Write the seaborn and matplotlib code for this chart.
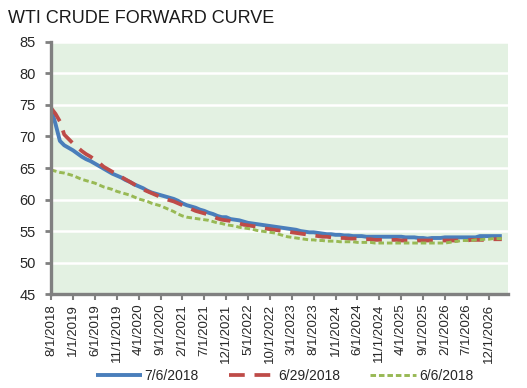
import matplotlib
matplotlib.use("Agg")
import matplotlib.pyplot as plt
import numpy as np
import pandas as pd
import seaborn as sns

# monthly forward prices, 8/2018 onwards
curve_jul06 = [
    74.3, 72.0, 69.3, 68.6, 68.2, 67.8, 67.3, 66.8, 66.4, 66.1, 65.7, 65.3,
    64.9, 64.5, 64.1, 63.8, 63.5, 63.1, 62.8, 62.4, 62.1, 61.8, 61.4, 61.1,
    60.9, 60.7, 60.5, 60.3, 60.1, 59.8, 59.4, 59.1, 58.9, 58.7, 58.4, 58.2,
    57.9, 57.7, 57.4, 57.2, 57.2, 56.9, 56.8, 56.7, 56.5, 56.3, 56.2, 56.1,
    56.0, 55.9, 55.8, 55.7, 55.6, 55.5, 55.4, 55.3, 55.2, 55.0, 54.9, 54.8,
    54.8, 54.7, 54.6, 54.5, 54.5, 54.4, 54.4, 54.3, 54.3, 54.2, 54.2, 54.2,
    54.1, 54.1, 54.1, 54.1, 54.1, 54.1, 54.1, 54.1, 54.1, 54.0, 54.0, 54.0,
    53.9, 53.9, 53.8, 53.9, 53.9, 53.9, 54.0, 54.0, 54.0, 54.0, 54.0, 54.0,
    54.0, 54.0, 54.2, 54.2, 54.2, 54.2, 54.2, 54.2,
]
curve_jun29 = [
    74.5, 73.6, 72.4, 70.3, 69.6, 68.9, 68.3, 67.7, 67.2, 66.8, 66.3, 65.8,
    65.2, 64.8, 64.4, 64.0, 63.6, 63.2, 62.8, 62.4, 62.0, 61.6, 61.3, 61.0,
    60.7, 60.4, 60.1, 59.9, 59.7, 59.4, 59.1, 58.8, 58.5, 58.2, 58.0, 57.8,
    57.6, 57.3, 57.0, 56.8, 56.7, 56.6, 56.4, 56.2, 56.0, 55.9, 55.8, 55.7,
    55.5, 55.4, 55.3, 55.2, 55.1, 55.0, 54.9, 54.8, 54.7, 54.6, 54.5, 54.4,
    54.3, 54.2, 54.1, 54.1, 54.0, 54.0, 53.9, 53.9, 53.8, 53.8, 53.8, 53.7,
    53.7, 53.7, 53.6, 53.6, 53.6, 53.6, 53.6, 53.6, 53.5, 53.5, 53.5, 53.5,
    53.5, 53.5, 53.5, 53.5, 53.5, 53.5, 53.5, 53.5, 53.5, 53.5, 53.5, 53.5,
    53.6, 53.6, 53.6, 53.6, 53.6, 53.7, 53.7, 53.7,
]
curve_jun06 = [
    64.7, 64.5, 64.3, 64.2, 64.0, 63.8, 63.5, 63.2, 63.0, 62.8, 62.6, 62.3,
    62.0, 61.8, 61.6, 61.3, 61.1, 60.9, 60.7, 60.4, 60.1, 59.9, 59.7, 59.4,
    59.2, 59.0, 58.7, 58.4, 58.1, 57.7, 57.4, 57.2, 57.1, 57.0, 56.9, 56.8,
    56.7, 56.5, 56.3, 56.2, 56.0, 55.9, 55.8, 55.6, 55.5, 55.4, 55.3, 55.1,
    55.0, 54.9, 54.8, 54.7, 54.5, 54.3, 54.1, 54.0, 53.9, 53.8, 53.7, 53.6,
    53.6, 53.5, 53.5, 53.4, 53.4, 53.4, 53.3, 53.3, 53.3, 53.3, 53.2, 53.2,
    53.2, 53.2, 53.1, 53.1, 53.1, 53.1, 53.1, 53.1, 53.1, 53.1, 53.1, 53.1,
    53.1, 53.1, 53.1, 53.1, 53.1, 53.1, 53.1, 53.2, 53.3, 53.4, 53.5, 53.5,
    53.5, 53.6, 53.6, 53.7, 53.7, 53.8, 53.8, 53.8,
]
series_names = ["7/6/2018", "6/29/2018", "6/6/2018"]
tick_labels = [
    "8/1/2018", "1/1/2019", "6/1/2019", "11/1/2019", "4/1/2020", "9/1/2020",
    "2/1/2021", "7/1/2021", "12/1/2021", "5/1/2022", "10/1/2022", "3/1/2023",
    "8/1/2023", "1/1/2024", "6/1/2024", "11/1/2024", "4/1/2025", "9/1/2025",
    "2/1/2026", "7/1/2026", "12/1/2026",
]

months = np.arange(len(curve_jul06))
df = pd.DataFrame({
    "month": np.tile(months, 3),
    "price": curve_jul06 + curve_jun29 + curve_jun06,
    "curve": np.repeat(series_names, len(months)),
})

sns.set_style("white", {"axes.facecolor": "#e3f1e2"})
plt.rcParams["font.family"] = ["Liberation Sans", "DejaVu Sans"]

fig = plt.figure(figsize=(5.27, 3.88), dpi=100)
ax = fig.add_axes([0.097, 0.242, 0.866, 0.65])

palette = {"7/6/2018": "#4a7ebb", "6/29/2018": "#be4b48", "6/6/2018": "#98b954"}
sns.lineplot(data=df, x="month", y="price", hue="curve", style="curve",
             palette=palette, dashes=False, ax=ax, legend=False)

styles = {
    "7/6/2018": dict(lw=2.8, ls="-"),
    "6/29/2018": dict(lw=2.7, ls=(0, (4.2, 2.6))),
    "6/6/2018": dict(lw=2.1, ls=(0, (1.9, 1.0))),
}
for line, name in zip(ax.lines, series_names):
    line.set_linewidth(styles[name]["lw"])
    line.set_linestyle(styles[name]["ls"])
    line.set_solid_capstyle("butt")
    line.set_dash_capstyle("butt")
    line.set_label(name)

ax.set_ylim(45, 85)
ax.set_yticks(range(45, 86, 5))
ax.set_xlim(0, 104.3)
ax.set_xticks(np.arange(0, 101, 5))
ax.set_xticklabels(tick_labels, rotation=90, fontsize=9.5)
ax.tick_params(axis="y", labelsize=10.5, length=4, width=2, color="#808080",
               pad=7, left=True)
ax.tick_params(axis="x", length=4, width=1.5, color="#808080", pad=3,
               bottom=True)
ax.set_xlabel("")
ax.set_ylabel("")

ax.grid(axis="y", color="white", lw=1.8)
ax.set_axisbelow(True)
for side in ["top", "right"]:
    ax.spines[side].set_visible(False)
for side in ["left", "bottom"]:
    ax.spines[side].set_color("#808080")
    ax.spines[side].set_linewidth(2.4)

fig.text(0.015, 0.953, "WTI CRUDE FORWARD CURVE", fontsize=13,
         color="#1a1a1a", ha="left", va="center")

fig.legend(handles=ax.lines, labels=series_names, loc="center",
           bbox_to_anchor=(0.54, 0.031), ncol=3, frameon=False, fontsize=10,
           handlelength=3.3, columnspacing=2.2, handletextpad=0.2)

fig.savefig("out.png", dpi=100)
